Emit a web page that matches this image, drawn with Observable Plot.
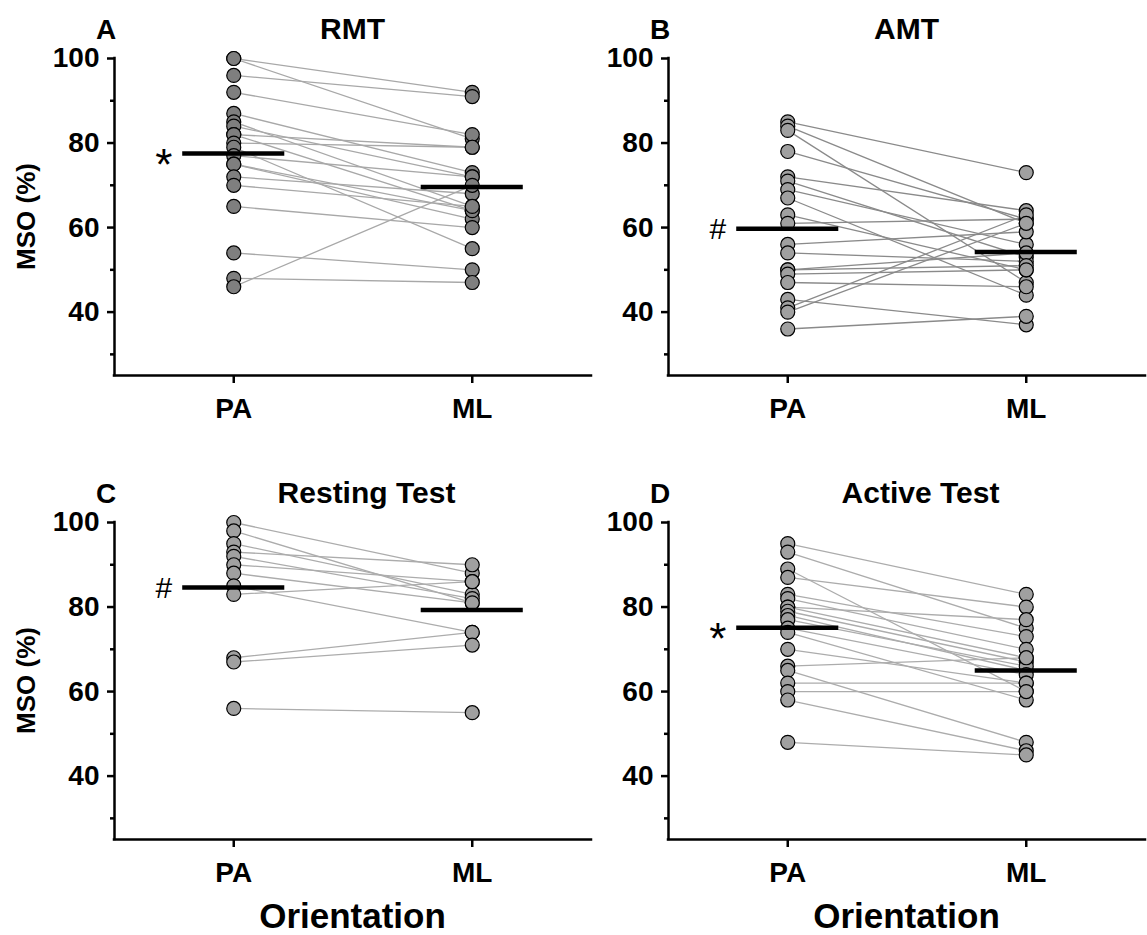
<!DOCTYPE html>
<html>
<head>
<meta charset="utf-8">
<script src="https://cdn.jsdelivr.net/npm/d3@7"></script>
<script src="https://cdn.jsdelivr.net/npm/@observablehq/plot@0.6"></script>
<style>
  html, body { margin: 0; padding: 0; background: #fff; overflow: hidden; }
  #chart { position: relative; width: 1147px; height: 935px; }
  #chart > svg.panel { position: absolute; overflow: visible; }
  #overlay { position: absolute; left: 0; top: 0; pointer-events: none; }
</style>
</head>
<body>
<div id="chart"></div>
<script>
// ---- data ----
const orientations = ["PA", "ML"];
const panelLetters = ["A", "B", "C", "D"];
const panelTitles = ["RMT", "AMT", "Resting Test", "Active Test"];
const yTicks = [40, 60, 80, 100];
const yMinorTicks = [30, 50, 70, 90];
const yDomain = [25, 100];

const rmtPA = [100, 100, 96, 92, 87, 85, 84, 82, 82, 80, 79, 77, 75, 75, 72, 70, 65, 54, 48, 46];
const rmtML = [92, 81, 91, 82, 73, 65, 72, 79, 64, 79, 55, 72, 62, 64, 68, 65, 60, 50, 47, 70];

const amtPA = [85, 84, 83, 78, 72, 71, 69, 67, 63, 61, 56, 54, 50, 50, 49, 47, 43, 41, 40, 36];
const amtML = [73, 61, 47, 62, 64, 53, 56, 44, 50, 62, 59, 52, 54, 51, 50, 46, 37, 63, 61, 39];

const restPA = [100, 98, 95, 93, 92, 90, 88, 85, 83, 68, 67, 56];
const restML = [88, 81, 83, 90, 82, 86, 81, 74, 86, 74, 71, 55];

const actPA = [95, 93, 89, 87, 83, 82, 80, 80, 79, 78, 77, 75, 74, 70, 66, 65, 62, 60, 58, 48];
const actML = [83, 75, 60, 80, 73, 70, 77, 68, 67, 65, 66, 64, 58, 62, 68, 48, 62, 60, 46, 45];

const meanPA = [77.5, 59.7, 84.6, 75.1];
const meanML = [69.6, 54.2, 79.3, 65.0];
const sigMarks = ["*", "#", "#", "*"];

const seriesPA = [rmtPA, amtPA, restPA, actPA];
const seriesML = [rmtML, amtML, restML, actML];

// ---- styling ----
const FONT = "Liberation Sans, Arial, Helvetica, sans-serif";
const dotFill = ["#7f7f7f", "#a0a0a0", "#a0a0a0", "#a0a0a0"];
const linkStroke = ["#a8a8a8", "#8a8a8a", "#acacac", "#acacac"];
const panelW = 593, panelH = 464;
const offsets = [[0, 0], [554, 0], [0, 464], [554, 464]];
const titleShift = [0, 0, 14, 14];
const mL = 114, mR = 2, mT = 58, mB = 89;
const halfMean = 0.214; // half width of mean bar, in x units

const chart = document.getElementById("chart");
const xPos = o => orientations.indexOf(o) + 0.5;

for (let p = 0; p < 4; p++) {
  const rows = [];
  seriesPA[p].forEach((v, i) => rows.push({s: i, o: "PA", v}));
  seriesML[p].forEach((v, i) => rows.push({s: i, o: "ML", v}));
  const means = [{o: "PA", v: meanPA[p]}, {o: "ML", v: meanML[p]}];

  const svg = Plot.plot({
    width: panelW,
    height: panelH,
    marginLeft: mL, marginRight: mR, marginTop: mT, marginBottom: mB,
    style: {fontFamily: FONT, fontWeight: "bold", background: "transparent", overflow: "visible", color: "black"},
    x: {type: "linear", domain: [0, 2]},
    y: {domain: yDomain},
    marks: [
      Plot.line(rows, {x: d => xPos(d.o), y: "v", z: "s", stroke: linkStroke[p], strokeWidth: 1.3}),
      Plot.dot(rows, {x: d => xPos(d.o), y: "v", r: 7, fill: dotFill[p], stroke: "black", strokeWidth: 1.2}),
      Plot.ruleY(means, {y: "v", x1: d => xPos(d.o) - halfMean, x2: d => xPos(d.o) + halfMean, stroke: "black", strokeWidth: 4.5}),
      Plot.text([means[0]], {x: d => xPos(d.o), y: "v", text: () => sigMarks[p], dx: -70,
        dy: sigMarks[p] === "*" ? 12 : 1, fontSize: sigMarks[p] === "*" ? 44 : 30, fontWeight: "normal", fill: "black"}),
      Plot.ruleX([0], {stroke: "black", strokeWidth: 2.5, strokeLinecap: "square"}),
      Plot.ruleY([yDomain[0]], {stroke: "black", strokeWidth: 2.5, strokeLinecap: "square"}),
      Plot.axisY({ticks: yTicks, tickSize: 7, tickPadding: 8, fontSize: 28, strokeWidth: 2.5, label: null}),
      Plot.axisY({ticks: yMinorTicks, tickSize: 4, tickFormat: () => "", strokeWidth: 2.5, label: null}),
      Plot.axisX({ticks: orientations.map(xPos), tickFormat: d => orientations[Math.floor(d)], tickSize: 8, tickPadding: 15, fontSize: 28, strokeWidth: 2.5, label: null})
    ]
  });
  svg.classList.add("panel");
  svg.style.left = offsets[p][0] + "px";
  svg.style.top = offsets[p][1] + "px";
  chart.appendChild(svg);
}

// ---- titles, panel letters and axis titles ----
const ov = d3.select(chart).append("svg").attr("id", "overlay")
  .attr("width", 1147).attr("height", 935)
  .style("font-family", FONT).style("font-weight", "bold");

offsets.forEach(([ox, oy], p) => {
  const cx = ox + (mL + panelW - mR) / 2;
  ov.append("text").attr("x", ox + 106).attr("y", oy + 39).attr("text-anchor", "middle")
    .attr("font-size", 28).text(panelLetters[p]);
  ov.append("text").attr("x", cx + titleShift[p]).attr("y", oy + 39).attr("text-anchor", "middle")
    .attr("font-size", 30).text(panelTitles[p]);
  if (ox === 0) {
    const cy = oy + (mT + panelH - mB) / 2;
    ov.append("text").attr("transform", `translate(35,${cy}) rotate(-90)`).attr("text-anchor", "middle")
      .attr("font-size", 26).text("MSO (%)");
  }
  if (oy > 0) {
    ov.append("text").attr("x", cx).attr("y", 928).attr("text-anchor", "middle")
      .attr("font-size", 35).text("Orientation");
  }
});
</script>
</body>
</html>
